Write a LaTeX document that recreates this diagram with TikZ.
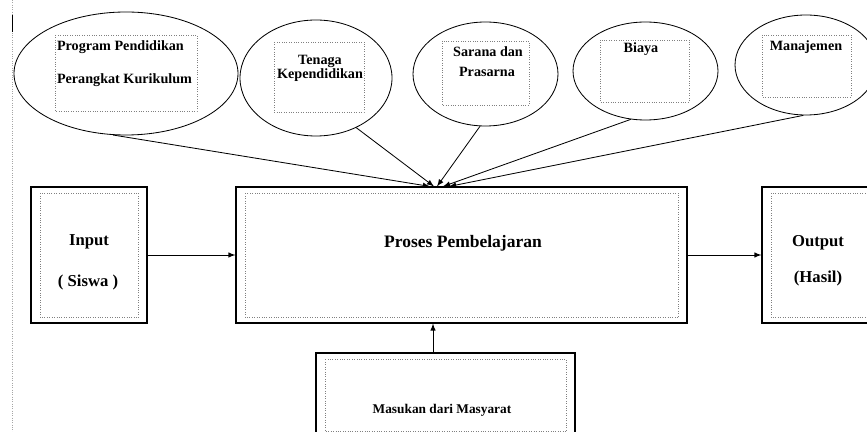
\documentclass[tikz,border=0pt]{standalone}
\usepackage{fontspec}
\setmainfont{Liberation Serif}
\usetikzlibrary{calc}
\usetikzlibrary{shapes}
\newcommand{\px}{0.6pt}
\newcommand{\ibox}[4]{ \draw[dotbox] ( #1 , #2 ) rectangle ( #3 , #4 );}
\newcommand{\frm}[1]{ \draw[dotbox] ($(#1.north west)+(10,7)$) rectangle ($(#1.south east)+(-9,-6)$);}

\tikzset{
  blob/.style={ellipse, draw, line width=0.5pt, inner sep=0pt},
  mainbox/.style={rectangle, draw, line width=0.65pt, inner sep=0pt},
  dotbox/.style={draw=gray, densely dotted, line width=0.45pt},
  lbl/.style={font=\bfseries\fontsize{10}{12}\selectfont, inner sep=1pt},
  sml/.style={font=\bfseries\fontsize{8.5}{10}\selectfont, inner sep=1pt},
  arr/.style={->, >=latex, line width=0.5pt}
}

\begin{document}
\begin{tikzpicture}[x=\px,y=-\px]
        \useasboundingbox (0,0) rectangle (867,432);

        % margin
        \draw[gray!70, densely dotted] (12,0) -- (12,432);
        \draw[line width=1pt] (12.5,15) -- (12.5,32);

        % top row
        \node[blob, minimum width=224*\px, minimum height=123*\px] (prog) at (126,73.5) {};
        \ibox{55}{35}{197}{111}
        \node[sml, anchor=west] (progA) at (55,47) {Program Pendidikan};
        \node[sml, anchor=west] (progB) at (55,80) {Perangkat Kurikulum};

        \node[blob, minimum width=152*\px, minimum height=116*\px] (tenaga) at (316,78) {};
        \ibox{274}{42}{364}{112}
        \node[sml] (tenagaA) at (320,61) {Tenaga};
        \node[sml] (tenagaB) at (320,75) {Kependidikan};

        \node[blob, minimum width=145*\px, minimum height=104*\px] (sarana) at (485.5,74) {};
        \ibox{442}{41}{529}{105}
        \node[sml] (saranaA) at (488,52) {Sarana dan};
        \node[sml] (saranaB) at (487,72) {Prasarna};

        \node[blob, minimum width=145*\px, minimum height=98*\px] (biaya) at (645.5,71) {};
        \ibox{600}{40}{689}{102}
        \node[sml] (biayaA) at (641,49) {Biaya};

        \node[blob, minimum width=142*\px, minimum height=100*\px] (manaj) at (806,65) {};
        \ibox{762}{35}{851}{97}
        \node[sml] (manajA) at (806,47) {Manajemen};

        % middle row
        \node[mainbox, minimum width=116*\px, minimum height=136*\px] (input) at (89,255) {};
        \frm{input}
        \node[lbl] (inputA) at (89,242) {Input};
        \node[lbl] (inputB) at (88,282) {( Siswa )};

        \node[mainbox, minimum width=451*\px, minimum height=136*\px] (proses) at (461.5,255) {};
        \frm{proses}
        \node[lbl, font=\bfseries\fontsize{10.5}{12}\selectfont] (prosesA) at (463,243) {Proses Pembelajaran};

        \node[mainbox, minimum width=116*\px, minimum height=136*\px] (output) at (820,255) {};
        \frm{output}
        \node[lbl] (outputA) at (818,243) {Output};
        \node[lbl] (outputB) at (818,278) {(Hasil)};

        % bottom
        \node[mainbox, minimum width=259*\px, minimum height=84*\px] (masuk) at (445.5,395) {};
        \frm{masuk}
        \node[font=\bfseries\fontsize{8}{10}\selectfont] (masukA) at (442,410) {Masukan dari Masyarat};

        % arrows
        \draw[arr] (prog.258) -- ($(proses.north)+(-31.5,0)$);
        \draw[arr] (tenaga.309) -- ($(proses.north)+(-27.5,0)$);
        \draw[arr] (sarana.264) -- ($(proses.north)+(-24.5,0)$);
        \draw[arr] (biaya.253) -- ($(proses.north)+(-18.5,0)$);
        \draw[arr] (manaj.267) -- ($(proses.north)+(-12.5,0)$);
        \draw[arr] (input.east) -- (proses.west);
        \draw[arr] (proses.east) -- (output.west);
        \coordinate (up) at ($(masuk.north)+(-12.5,0)$);
        \draw[arr] (up) -- (up |- proses.south);
\end{tikzpicture}
\end{document}
